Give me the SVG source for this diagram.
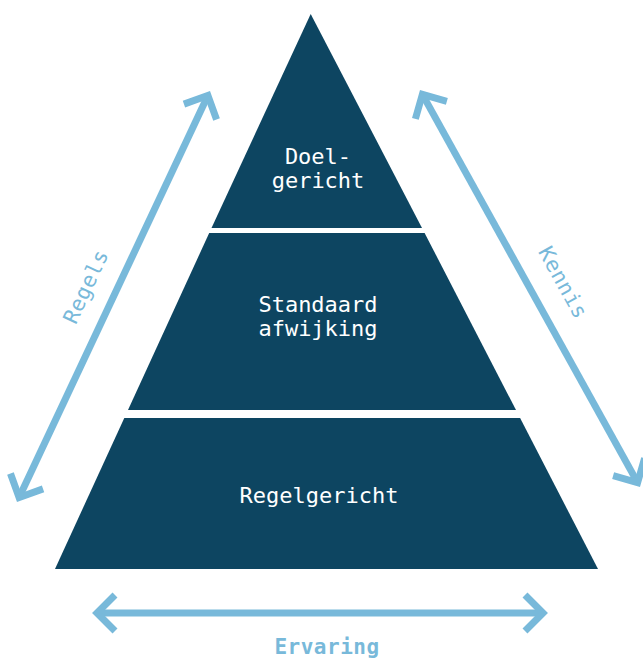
<svg xmlns="http://www.w3.org/2000/svg" width="643" height="660" viewBox="0 0 643 660">
<style>
.seg{fill:#0d4561}
.lbl{font-family:"DejaVu Sans Mono","Liberation Mono",monospace;font-size:22px;fill:#ffffff;text-anchor:middle}
.axl{font-family:"DejaVu Sans Mono","Liberation Mono",monospace;font-size:21px;fill:#78b9da;text-anchor:middle;letter-spacing:0.5px}
.arr{stroke:#78b9da;stroke-width:7;fill:none;marker-start:url(#chev);marker-end:url(#chev)}
</style>
<defs>
<marker id="chev" markerUnits="userSpaceOnUse" markerWidth="60" markerHeight="60" viewBox="-30 -30 60 60" refX="0" refY="0" orient="auto-start-reverse" overflow="visible">
<path d="M-18,-18 L0,0 L-18,18" fill="none" stroke="#78b9da" stroke-width="7"/>
</marker>
</defs>
<rect width="643" height="660" fill="#ffffff"/>
<g id="doelgericht">
<polygon class="seg" points="310.7,14 422,228 211.5,228"/>
<text class="lbl" x="318" y="164">Doel-</text>
<text class="lbl" x="318" y="188">gericht</text>
</g>
<g id="standaard-afwijking">
<polygon class="seg" points="209.2,233 424.6,233 516,410 128,410"/>
<text class="lbl" x="318" y="312">Standaard</text>
<text class="lbl" x="318" y="336">afwijking</text>
</g>
<g id="regelgericht">
<polygon class="seg" points="124.3,418 520.1,418 598,569 55,569"/>
<text class="lbl" x="319" y="503">Regelgericht</text>
</g>
<g id="connectors">
<line class="arr" x1="19.1" y1="497.5" x2="207.9" y2="95.5"/>
<line class="arr" x1="422.4" y1="94.4" x2="637.6" y2="482.6"/>
<line class="arr" x1="97" y1="613" x2="543" y2="613"/>
<text class="axl" transform="translate(87,287) rotate(-64.8)" x="0" y="6">Regels</text>
<text class="axl" transform="translate(562,283) rotate(61)" x="0" y="6">Kennis</text>
<text class="axl" x="327" y="654" font-weight="bold">Ervaring</text>
</g>
</svg>
